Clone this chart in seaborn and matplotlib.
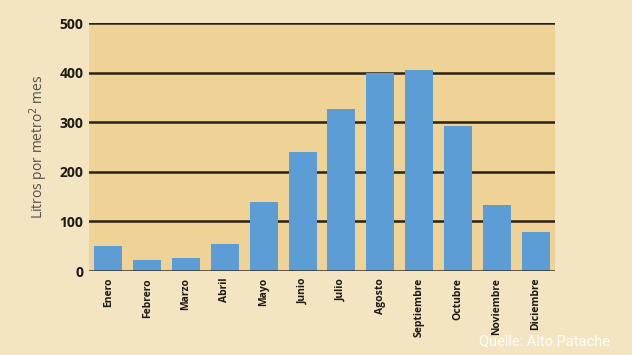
import pandas as pd
import matplotlib.pyplot as plt
import seaborn as sns

# 月份与降水量（升/平方米/月）
meses = ['Enero', 'Febrero', 'Marzo', 'Abril', 'Mayo', 'Junio',
         'Julio', 'Agosto', 'Septiembre', 'Octubre', 'Noviembre', 'Diciembre']
litros = [50, 22, 27, 54, 139, 240, 327, 400, 406, 292, 134, 78]
y_ticks = [0, 100, 200, 300, 400, 500]

df = pd.DataFrame({'mes': meses, 'litros': litros})

sns.set_theme(style="white")
plt.rcParams['font.family'] = ['Open Sans', 'DejaVu Sans']

fig = plt.figure(figsize=(6.32, 3.55), dpi=100)
fig.patch.set_facecolor('#F3E5C2')
ax = fig.add_axes([0.1408, 0.2366, 0.7373, 0.6986])
ax.set_facecolor('#EFD296')

sns.barplot(data=df, x='mes', y='litros', color='#5B9DD4', saturation=1,
            width=0.72, linewidth=0, ax=ax, zorder=3)

ax.set_ylim(0, 500)
ax.set_xlim(-0.5, len(meses) - 0.5)
ax.set_yticks(y_ticks)
for t in y_ticks[1:]:
    ax.axhline(t, color='#2A2114', linewidth=1.8, zorder=2)
ax.axhline(0, color='#3A3020', linewidth=1.8, zorder=4)

for s in ['top', 'right', 'left', 'bottom']:
    ax.spines[s].set_visible(False)

ax.tick_params(axis='both', length=0)
ax.tick_params(axis='y', pad=4)
ax.set_yticklabels([str(t) for t in y_ticks], fontsize=10, fontweight='bold', color='#1E1A14')
ax.set_xticks(range(len(meses)))
ax.set_xticklabels(meses, rotation=90, fontsize=7.5, fontweight='bold', color='#1E1A14')
ax.tick_params(axis='x', pad=5)

ax.set_xlabel('')
ax.set_ylabel('Litros por metro$^2$ mes', fontsize=10, color='#555048', labelpad=7)

fig.text(0.965, 0.018, 'Quelle: Alto Patache', ha='right', va='bottom',
         fontsize=10.5, color='white', family=['Roboto', 'DejaVu Sans'], alpha=0.9)

fig.savefig('out.png', dpi=100, facecolor=fig.get_facecolor())
